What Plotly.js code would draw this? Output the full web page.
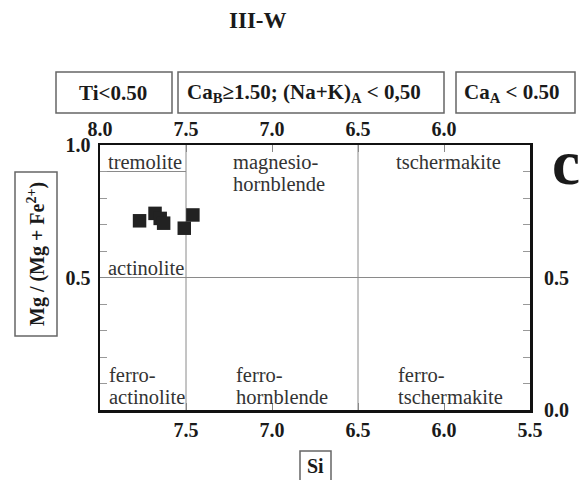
<!DOCTYPE html>
<html>
<head>
<meta charset="utf-8">
<script src="https://cdn.plot.ly/plotly-3.0.1.min.js"></script>
<style>html,body{margin:0;padding:0;background:#fff;}#chart{width:581px;height:480px;}</style>
</head>
<body>
<div id="chart"></div>
<script>
// ---- data ----
const siValues = [7.77, 7.68, 7.65, 7.63, 7.51, 7.46];
const mgValues = [0.714, 0.742, 0.723, 0.705, 0.686, 0.736];

const bottomTickVals = [7.5, 7.0, 6.5, 6.0, 5.5];
const bottomTickText = ['7.5', '7.0', '6.5', '6.0', '5.5'];
const topTickVals = [8.0, 7.5, 7.0, 6.5, 6.0];
const topTickText = ['8.0', '7.5', '7.0', '6.5', '6.0'];
const leftTickVals = [0.5, 1.0];
const leftTickText = ['0.5', '1.0'];
const rightTickVals = [0.0, 0.5];
const rightTickText = ['0.0', '0.5'];

const siBoundaries = [7.5, 6.5];
const mgBoundary = 0.5;
const tremoliteBoundary = 0.9;

const chartTitle = 'III-W';
const panelLetter = 'c';
const xTitle = 'Si';
const yTitle = 'Mg / (Mg + Fe<sup>2+</sup>)';
const criteriaLabels = ['Ti&lt;0.50', 'Ca<sub>B</sub>≥1.50; (Na+K)<sub>A</sub> &lt; 0,50', 'Ca<sub>A</sub> &lt; 0.50'];
const regionLines = ['tremolite', 'magnesio-', 'hornblende', 'tschermakite', 'actinolite',
  'ferro-', 'actinolite', 'ferro-', 'hornblende', 'ferro-', 'tschermakite'];

// ---- layout helpers (pixel -> paper) ----
const W = 581, H = 480;
const M = {l: 100, r: 51, t: 145, b: 70};
const PW = W - M.l - M.r, PH = H - M.t - M.b;
const px = x => (x - M.l) / PW;
const py = y => (H - M.b - y) / PH;

const serif = '"Liberation Serif", "Times New Roman", Times, serif';
const boldFont = s => ({family: serif, size: s, color: '#1a1a1a', weight: 'bold'});
const regFont = {family: serif, size: 20.5, color: '#333'};

const annotations = [];
const shapes = [];

// title & panel letter
annotations.push({text: chartTitle, xref: 'paper', yref: 'paper', x: px(258), y: py(20),
  showarrow: false, font: boldFont(23), xanchor: 'center', yanchor: 'middle'});
annotations.push({text: panelLetter, xref: 'paper', yref: 'paper', x: px(566), y: py(163),
  showarrow: false, font: boldFont(63), xanchor: 'center', yanchor: 'middle'});

// criteria boxes
const boxPx = [[56, 172], [178, 444], [456, 575]];
const boxTextX = [112.5, 304, 512];
criteriaLabels.forEach((t, i) => {
  shapes.push({type: 'rect', xref: 'paper', yref: 'paper', x0: px(boxPx[i][0]), x1: px(boxPx[i][1]),
    y0: py(113), y1: py(72), line: {color: '#666', width: 1.5}});
  annotations.push({text: t, xref: 'paper', yref: 'paper', x: px(boxTextX[i]), y: py(93),
    showarrow: false, font: boldFont(21), xanchor: 'center', yanchor: 'middle'});
});

// axis title boxes
shapes.push({type: 'rect', xref: 'paper', yref: 'paper', x0: px(15), x1: px(57), y0: py(336), y1: py(172),
  line: {color: '#666', width: 1.5}});
annotations.push({text: yTitle, xref: 'paper', yref: 'paper', x: px(36), y: py(254), textangle: -90,
  showarrow: false, font: boldFont(20), xanchor: 'center', yanchor: 'middle'});
shapes.push({type: 'rect', xref: 'paper', yref: 'paper', x0: px(300), x1: px(331), y0: py(481), y1: py(451),
  line: {color: '#666', width: 1.5}});
annotations.push({text: xTitle, xref: 'paper', yref: 'paper', x: px(315.5), y: py(466),
  showarrow: false, font: boldFont(20), xanchor: 'center', yanchor: 'middle'});

// region labels (left x, center y in pixels)
const regionPos = [[106, 162], [231, 162], [231, 184], [394, 162], [106, 268],
  [107, 375], [107, 397], [234, 375], [234, 397], [396, 375], [396, 397]];
regionLines.forEach((t, i) => {
  annotations.push({text: t, xref: 'paper', yref: 'paper', x: px(regionPos[i][0]), y: py(regionPos[i][1]),
    showarrow: false, font: regFont, xanchor: 'left', yanchor: 'middle'});
});

// field boundaries
siBoundaries.forEach(v => shapes.push({type: 'line', xref: 'x', yref: 'paper', x0: v, x1: v, y0: 0, y1: 1,
  line: {color: '#8a8a8a', width: 1}, layer: 'below'}));
shapes.push({type: 'line', xref: 'paper', yref: 'y', x0: 0, x1: 1, y0: mgBoundary, y1: mgBoundary,
  line: {color: '#8a8a8a', width: 1}, layer: 'below'});
shapes.push({type: 'line', xref: 'x', yref: 'y', x0: 8.0, x1: siBoundaries[0], y0: tremoliteBoundary, y1: tremoliteBoundary,
  line: {color: '#8a8a8a', width: 1}, layer: 'below'});

const traces = [
  {x: siValues, y: mgValues, type: 'scatter', mode: 'markers',
   marker: {symbol: 'square', size: 13.5, color: '#222', line: {width: 0}},
   showlegend: false, hoverinfo: 'skip'},
  {x: [topTickVals[0]], y: [rightTickVals[0]], xaxis: 'x2', yaxis: 'y2', type: 'scatter', mode: 'markers',
   marker: {opacity: 0}, showlegend: false, hoverinfo: 'skip'}
];

const tickFont = boldFont(20);
const layout = {
  width: W, height: H,
  margin: M,
  font: {family: serif},
  paper_bgcolor: '#fff', plot_bgcolor: '#fff',
  showlegend: false,
  xaxis: {range: [8.0, 5.5], tickmode: 'array', tickvals: bottomTickVals, ticktext: bottomTickText,
    ticks: 'inside', ticklen: 7, tickwidth: 1, tickcolor: '#888', tickfont: tickFont,
    showgrid: false, zeroline: false, showline: true, linecolor: '#111', linewidth: 2.5, mirror: true},
  xaxis2: {range: [8.0, 5.5], overlaying: 'x', side: 'top', anchor: 'y', tickmode: 'array',
    tickvals: topTickVals, ticktext: topTickText, ticks: 'inside', ticklen: 7, tickwidth: 1, tickcolor: '#888',
    tickfont: tickFont, ticklabelstandoff: 4, showgrid: false, zeroline: false, showline: false},
  yaxis: {range: [0, 1], tickmode: 'array', tickvals: leftTickVals, ticktext: leftTickText,
    ticks: 'inside', ticklen: 7, tickwidth: 1, tickcolor: '#888', tickfont: tickFont, ticklabelstandoff: 3,
    minor: {dtick: 0.1, ticks: 'inside', ticklen: 7, tickwidth: 1, tickcolor: '#999', showgrid: false},
    showgrid: false, zeroline: false, showline: true, linecolor: '#111', linewidth: 2.5, mirror: true},
  yaxis2: {range: [0, 1], overlaying: 'y', side: 'right', anchor: 'x', tickmode: 'array',
    tickvals: rightTickVals, ticktext: rightTickText, ticks: 'inside', ticklen: 7, tickwidth: 1, tickcolor: '#888',
    tickfont: tickFont, ticklabelstandoff: 13,
    minor: {dtick: 0.1, ticks: 'inside', ticklen: 7, tickwidth: 1, tickcolor: '#999', showgrid: false},
    showgrid: false, zeroline: false, showline: false},
  shapes: shapes,
  annotations: annotations
};

Plotly.newPlot('chart', traces, layout, {staticPlot: true, displayModeBar: false});
</script>
</body>
</html>
